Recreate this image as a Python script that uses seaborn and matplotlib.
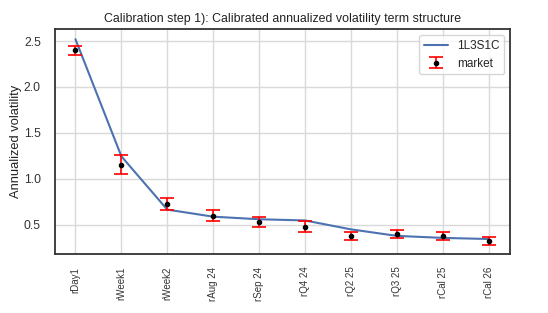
import matplotlib
matplotlib.use("Agg")
import matplotlib.pyplot as plt
import seaborn as sns
import pandas as pd

tenors = ["rDay1", "rWeek1", "rWeek2", "rAug 24", "rSep 24", "rQ4 24",
          "rQ2 25", "rQ3 25", "rCal 25", "rCal 26"]
model_vol = [2.52, 1.245, 0.665, 0.588, 0.56, 0.547, 0.45, 0.379, 0.357, 0.345]
market_vol = [2.40, 1.155, 0.724, 0.60, 0.53, 0.476, 0.38, 0.398, 0.375, 0.323]
market_err = [0.05, 0.10, 0.063, 0.06, 0.055, 0.06, 0.043, 0.042, 0.041, 0.04]

sns.set_theme(style="whitegrid")
plt.rcParams["font.family"] = ["Liberation Sans", "DejaVu Sans"]

fig = plt.figure(figsize=(5.48, 3.13), dpi=100)
ax = fig.add_axes([0.100, 0.188, 0.831, 0.719])

df = pd.DataFrame({"tenor": tenors, "model": model_vol})
sns.lineplot(data=df, x="tenor", y="model", ax=ax, color="#4C72B0",
             linewidth=1.5, label="1L3S1C", sort=False)
ax.errorbar(tenors, market_vol, yerr=market_err, fmt="o", color="black",
            ecolor="red", markersize=3, capsize=5, elinewidth=1.2,
            capthick=1.2, label="market")

ax.set_title("Calibration step 1): Calibrated annualized volatility term structure",
             fontsize=8.9, pad=5, color="#222222")
ax.set_xlabel("")
ax.set_ylabel("Annualized volatility", fontsize=9.3, labelpad=1.5, color="#222222")
ax.tick_params(axis="x", labelrotation=90, labelsize=7, pad=3, labelcolor="#333333")
ax.tick_params(axis="y", labelsize=8.8, pad=4, labelcolor="#333333")
ax.set_yticks([0.5, 1.0, 1.5, 2.0, 2.5])
ax.set_ylim(0.18, 2.63)
ax.set_xlim(-0.45, 9.47)
ax.grid(True, color="#d9d9d9", linewidth=1.0)
for s in ax.spines.values():
    s.set_color("#333333")
    s.set_linewidth(1.3)
leg = ax.legend(loc="upper right", fontsize=8.5, frameon=True)
leg.get_frame().set_edgecolor("#cccccc")

fig.savefig("out.png", dpi=100)
